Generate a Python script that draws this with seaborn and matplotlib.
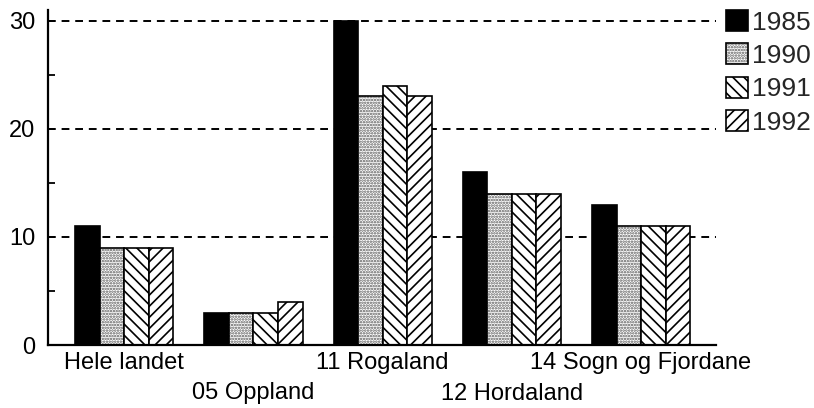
import numpy as np
import pandas as pd
import matplotlib
matplotlib.use('Agg')
import matplotlib.pyplot as plt
import matplotlib.colors as mcolors
from matplotlib.patches import Patch
import seaborn as sns

# Andel i prosent, per fylke og år
regions = ['Hele landet', '05 Oppland', '11 Rogaland', '12 Hordaland', '14 Sogn og Fjordane']
years = ['1985', '1990', '1991', '1992']
v1985 = [11, 3, 30, 16, 13]
v1990 = [9, 3, 23, 14, 11]
v1991 = [9, 3, 24, 14, 11]
v1992 = [9, 4, 23, 14, 11]

df = pd.DataFrame({
    'region': regions * 4,
    'year': np.repeat(years, len(regions)),
    'prosent': v1985 + v1990 + v1991 + v1992,
})

colors = ['black', 'white', 'white', 'white']
hatches = [None, '......', '\\\\\\', '///']
hatch_cols = ['black', '0.35', 'black', 'black']

sns.set_theme(style='ticks')
plt.rcParams['font.family'] = ['Liberation Sans', 'DejaVu Sans']
plt.rcParams['hatch.linewidth'] = 1.2

fig = plt.figure(figsize=(8.14, 4.08), dpi=100)
ax = fig.add_axes([48 / 814, 1 - 345 / 408, (716 - 48) / 814, (345 - 10) / 408])

sns.barplot(data=df, x='region', y='prosent', hue='year', palette=colors,
            width=0.76, gap=0, edgecolor='black', linewidth=1.2,
            saturation=1, legend=False, ax=ax)


def style_patch(p, h, hc):
    if h:
        p.set_hatch(h)
        p._hatch_color = mcolors.to_rgba(hc)  # lighter stipple, black outline


for cont, h, hc in zip(ax.containers, hatches, hatch_cols):
    for bar in cont:
        style_patch(bar, h, hc)

# gridlines and axes
ax.set_yticks([0, 10, 20, 30])
ax.set_yticks([5, 15, 25], minor=True)
ax.grid(axis='y', which='major', linestyle=(0, (4, 3)), color='black', linewidth=1.4)
ax.set_axisbelow(True)
ax.set_ylim(0, 31)
ax.set_xlim(-0.59, 4.58)
ax.set_xlabel('')
ax.set_ylabel('')
sns.despine(ax=ax)
for s in ['left', 'bottom']:
    ax.spines[s].set_linewidth(1.6)
    ax.spines[s].set_color('black')

ax.tick_params(axis='y', which='both', direction='in', length=5, width=1.3,
               labelsize=17, pad=9, colors='black')
ax.tick_params(axis='x', length=0, labelsize=17, pad=5, colors='black')
# staggered labels
for i, t in enumerate(ax.xaxis.get_major_ticks()):
    if i % 2 == 1:
        t.set_pad(27)

fig.text(0.003, 1 - 4 / 408, 'Prosent', fontsize=17, va='bottom', ha='left')

handles = []
for c, h, hc in zip(colors, hatches, hatch_cols):
    p = Patch(facecolor=c, edgecolor='black', linewidth=1.2)
    style_patch(p, h, hc)
    handles.append(p)
fig.legend(handles, years, loc='upper left', bbox_to_anchor=(726 / 814, 1 - 10 / 408),
           frameon=False, fontsize=19, handlelength=0.83, handleheight=0.83,
           handletextpad=0.15, labelspacing=0.34, borderpad=0, borderaxespad=0)

fig.savefig('out.png', dpi=100)
